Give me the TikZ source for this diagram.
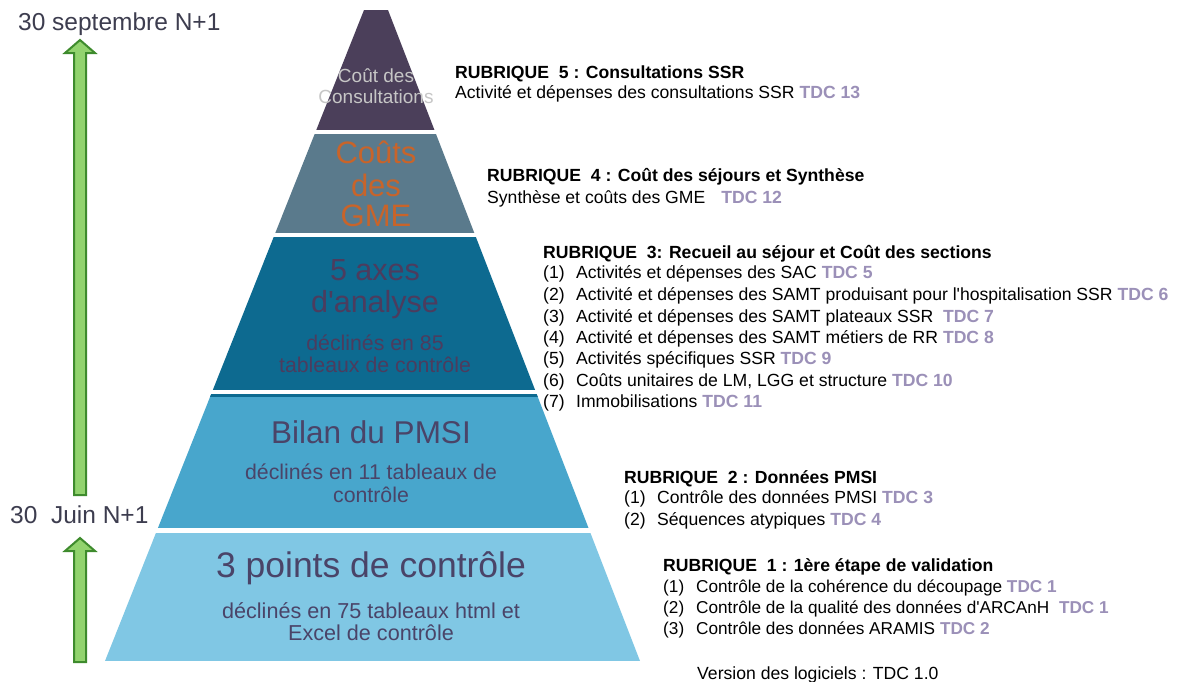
\documentclass[tikz,border=0pt]{standalone}
\usepackage{fontspec}
\setmainfont{Liberation Sans}[Ligatures=TeXOff]
\definecolor{cfive}{HTML}{4B3F5A}
\definecolor{cfour}{HTML}{5A7A8C}
\definecolor{cthree}{HTML}{0D6A90}
\definecolor{ctwo}{HTML}{48A6CC}
\definecolor{cone}{HTML}{80C7E4}
\definecolor{ptext}{HTML}{4A4468}
\definecolor{pthree}{HTML}{4C3C5E}
\definecolor{porange}{HTML}{C8642A}
\definecolor{pgray}{HTML}{C6C6C6}
\definecolor{tdccol}{HTML}{9B90B8}
\definecolor{lefttext}{HTML}{3D3D4F}
\definecolor{arrowfill}{HTML}{92D36E}
\definecolor{arrowline}{HTML}{3E8B2D}
\newcommand\tdc[1]{\textcolor{tdccol}{\bfseries #1}}
\newcommand\itm[2]{\makebox[33pt][l]{(#1)}#2}
\newcommand\pf[1]{\fontsize{#1}{#1}\selectfont}
\begin{document}
\begin{tikzpicture}[x=1pt,y=-1pt,
  ptx/.style={inner sep=0pt, anchor=base},
  rub/.style={inner sep=0pt, anchor=base west, font=\pf{17.6}, text=black},
  rubs/.style={rub, font=\pf{17.2}},
  side/.style={inner sep=0pt, anchor=base west, font=\pf{24.5}, text=lefttext},
  garrow/.style={fill=arrowfill, draw=arrowline, line width=2pt, line join=miter},
]
\useasboundingbox (0,0) rectangle (1180,681);
\fill[white] (0,0) rectangle (1180,681);

% ---------- pyramid layers ----------
\begin{scope}
  \clip (364,10) -- (388,10) -- (640,661) -- (105,661) -- cycle;
  \fill[cfive]  (0,10)  rectangle (700,130);
  \fill[cfour]  (0,134) rectangle (700,233);
  \fill[cthree] (0,237) rectangle (700,390);
  \fill[ctwo]   (0,394) rectangle (700,528);
  \fill[cthree] (0,394) rectangle (700,397);
  \fill[cone]   (0,533) rectangle (700,661);
\end{scope}

% ---------- pyramid texts ----------
\node[ptx, font=\pf{19}, text=pgray] (l5a) at (376,82) {Coût des};
\node[ptx, font=\pf{19}, text=pgray] (l5b) at (376,103) {Consultations};

\node[ptx, font=\pf{31}, text=porange] (l4a) at (376,163) {Coûts};
\node[ptx, font=\pf{31}, text=porange] (l4b) at (376,196.5) {des};
\node[ptx, font=\pf{31}, text=porange] (l4c) at (376,226) {GME};

\node[ptx, font=\pf{30.5}, text=pthree] (l3a) at (375,280) {5 axes};
\node[ptx, font=\pf{30.5}, text=pthree] (l3b) at (375,312.5) {d'analyse};
\node[ptx, font=\pf{21.3}, text=pthree] (l3c) at (375,350.5) {déclinés en 85};
\node[ptx, font=\pf{21.3}, text=pthree] (l3d) at (375,372.5) {tableaux de contrôle};

\node[ptx, font=\pf{31.5}, text=ptext] (l2a) at (371,443) {Bilan du PMSI};
\node[ptx, font=\pf{21.3}, text=ptext] (l2b) at (371,479) {déclinés en 11 tableaux de};
\node[ptx, font=\pf{21.3}, text=ptext] (l2c) at (371,502) {contrôle};

\node[ptx, font=\pf{35.5}, text=ptext] (l1a) at (371,577) {3 points de contrôle};
\node[ptx, font=\pf{21.6}, text=ptext] (l1b) at (371,618) {déclinés en 75 tableaux html et};
\node[ptx, font=\pf{21.6}, text=ptext] (l1c) at (371,640) {Excel de contrôle};

% ---------- left timeline ----------
\node[side] (sept) at (18,30) {30 septembre N+1};
\node[side] (juin) at (10,523) {30\ \ Juin N+1};
\draw[garrow] (74,495) -- (74,53) -- (65,53) -- (80,40) -- (95,53) -- (86,53) -- (86,495) -- cycle;
\draw[garrow] (74,662) -- (74,551) -- (65,551) -- (80,538) -- (95,551) -- (86,551) -- (86,662) -- cycle;

% ---------- rubrique 5 ----------
\node[rub] (r5h) at (455,78) {\bfseries RUBRIQUE\ \ 5 : Consultations SSR};
\node[rub] (r5a) at (455,98) {Activité et dépenses des consultations SSR \tdc{TDC 13}};

% ---------- rubrique 4 ----------
\node[rub] (r4h) at (487,181) {\bfseries RUBRIQUE\ \ 4 : Coût des séjours et Synthèse};
\node[rub] (r4a) at (487,203) {Synthèse et coûts des GME\hspace{16pt}\tdc{TDC 12}};

% ---------- rubrique 3 ----------
\node[rub] (r3h) at (543,258) {\bfseries RUBRIQUE\ \ 3: Recueil au séjour et Coût des sections};
\node[rub] (r3a) at (543,278) {\itm{1}{Activités et dépenses des SAC \tdc{TDC 5}}};
\node[rub] (r3b) at (543,300) {\itm{2}{Activité et dépenses des SAMT produisant pour l'hospitalisation SSR \tdc{TDC 6}}};
\node[rub] (r3c) at (543,322) {\itm{3}{Activité et dépenses des SAMT plateaux SSR\ \ \tdc{TDC 7}}};
\node[rub] (r3d) at (543,343) {\itm{4}{Activité et dépenses des SAMT métiers de RR \tdc{TDC 8}}};
\node[rub] (r3e) at (543,364) {\itm{5}{Activités spécifiques SSR \tdc{TDC 9}}};
\node[rub] (r3f) at (543,386) {\itm{6}{Coûts unitaires de LM, LGG et structure \tdc{TDC 10}}};
\node[rub] (r3g) at (543,407) {\itm{7}{Immobilisations \tdc{TDC 11}}};

% ---------- rubrique 2 ----------
\node[rub] (r2h) at (624,483) {\bfseries RUBRIQUE\ \ 2 : Données PMSI};
\node[rub] (r2a) at (624,503) {\itm{1}{Contrôle des données PMSI \tdc{TDC 3}}};
\node[rub] (r2b) at (624,525) {\itm{2}{Séquences atypiques \tdc{TDC 4}}};

% ---------- rubrique 1 ----------
\node[rub] (r1h) at (663,571.5) {\bfseries RUBRIQUE\ \ 1 : 1ère étape de validation};
\node[rubs] (r1a) at (663,592.5) {\itm{1}{Contrôle de la cohérence du découpage \tdc{TDC 1}}};
\node[rubs] (r1b) at (663,613) {\itm{2}{Contrôle de la qualité des données d'ARCAnH\ \ \tdc{TDC 1}}};
\node[rubs] (r1c) at (663,634) {\itm{3}{Contrôle des données ARAMIS \tdc{TDC 2}}};

\node[rub] (ver) at (697,679) {Version des logiciels : TDC 1.0};
\end{tikzpicture}
\end{document}
